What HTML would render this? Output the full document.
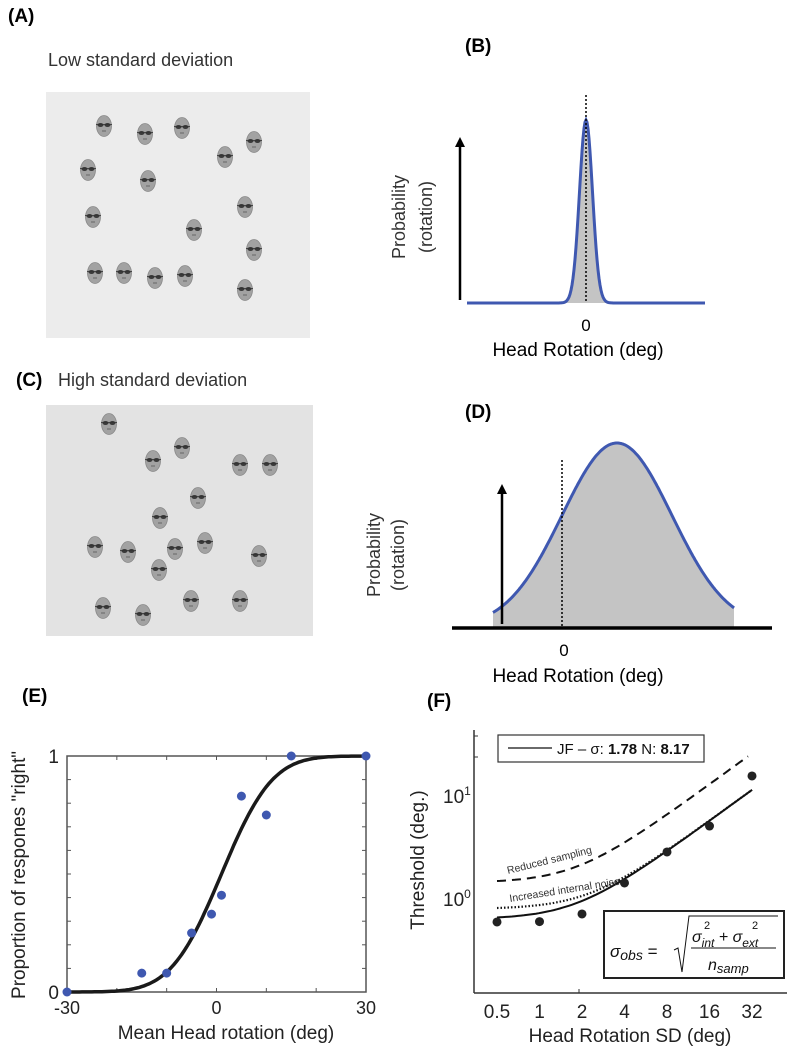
<!DOCTYPE html>
<html><head><meta charset="utf-8">
<style>
body{margin:0;background:#fff;}
svg{display:block;font-family:"Liberation Sans",sans-serif;}
</style></head>
<body>
<svg id="fig" width="787" height="1047" viewBox="0 0 787 1047">
<g id="pA">
<text x="8" y="22" font-size="19" font-weight="bold">(A)</text>
<text x="48" y="66" font-size="18" fill="#333">Low standard deviation</text>
<rect x="46" y="92" width="264" height="246" fill="#ececec"/>
</g>
<g id="pC">
<text x="16" y="386" font-size="19" font-weight="bold">(C)</text>
<text x="58" y="386" font-size="18" fill="#333">High standard deviation</text>
<rect x="46" y="405" width="267" height="231" fill="#e3e3e3"/>
</g>
<g id="pB">
<text x="465" y="52" font-size="19" font-weight="bold">(B)</text>
</g>
<g id="pD">
<text x="465" y="418" font-size="19" font-weight="bold">(D)</text>
</g>
<g id="pE">
<text x="22" y="702" font-size="19" font-weight="bold">(E)</text>
</g>
<g id="pF">
<text x="427" y="707" font-size="19" font-weight="bold">(F)</text>
</g>
</svg>
<script>
const NS='http://www.w3.org/2000/svg';
function mk(parent,tag,attrs,text){const e=document.createElementNS(NS,tag);for(const k in attrs)e.setAttribute(k,attrs[k]);if(text!==undefined)e.textContent=text;parent.appendChild(e);return e;}
const gA=document.getElementById('pA'),gB=document.getElementById('pB'),gC=document.getElementById('pC'),gD=document.getElementById('pD'),gE=document.getElementById('pE'),gF=document.getElementById('pF');

// Face stimulus positions
const facesLowX=[104,145,182,225,254,88,148,93,194,245,254,95,124,155,185,245];
const facesLowY=[126,134,128,157,142,170,181,217,230,207,250,273,273,278,276,290];
const facesHighX=[109,153,182,240,270,198,160,95,128,175,205,259,159,103,143,191,240];
const facesHighY=[424,461,448,465,465,498,518,547,552,549,543,556,570,608,615,601,601];
function face(g,cx,cy){
  const f=mk(g,'g',{});
  
  
  mk(f,'ellipse',{cx:cx,cy:cy,rx:7.5,ry:10.5,fill:'#a2a2a2',stroke:'#888','stroke-width':0.8});
  mk(f,'ellipse',{cx:cx-3.5,cy:cy-1,rx:3,ry:2,fill:'#3a3a3a'});
  mk(f,'ellipse',{cx:cx+3.5,cy:cy-1,rx:3,ry:2,fill:'#3a3a3a'});
  mk(f,'line',{x1:cx-8,y1:cy-1.5,x2:cx+8,y2:cy-1.5,stroke:'#333','stroke-width':0.8});
  mk(f,'line',{x1:cx-2,y1:cy+5,x2:cx+2,y2:cy+5,stroke:'#666','stroke-width':1});
}
facesLowX.forEach((x,i)=>face(gA,x,facesLowY[i]));
facesHighX.forEach((x,i)=>face(gC,x,facesHighY[i]));

function arrow(g,x,y1,y2,name){
  const a=mk(g,'g',{});
  
  
  mk(a,'line',{x1:x,y1:y1,x2:x,y2:y2+8,stroke:'#000','stroke-width':2.5});
  mk(a,'polygon',{points:`${x-5},${y2+10} ${x+5},${y2+10} ${x},${y2}`,fill:'#000'});
}
function gauss(g,x0,x1,base,mu,sig,h,px,name,lineCol){
  let d=`M${x0},${base}`;
  for(let x=x0;x<=x1;x+=1){d+=` L${x},${base-h*Math.exp(-0.5*((x-mu)/sig)**2)}`;}
  const pts=[];for(let x=x0;x<=x1;x+=1)pts.push(`${x},${(base-h*Math.exp(-0.5*((x-mu)/sig)**2)).toFixed(1)}`);
  const fill=mk(g,'path',{d:d+` L${x1},${base} Z`,fill:'#c4c4c4'});
  
  
  const l=mk(g,'polyline',{points:pts.join(' '),fill:'none',stroke:lineCol,'stroke-width':3});
  
  
}
// Panel B
gauss(gB,467,705,303,586,6.5,183,1,'distribution-b','#3f58b0');
mk(gB,'line',{x1:586,y1:95,x2:586,y2:303,stroke:'#000','stroke-width':1.5,'stroke-dasharray':'2,2'});
arrow(gB,460,300,137,'y-arrow-b');
mk(gB,'text',{x:586,y:331,'font-size':17,'text-anchor':'middle'},'0');
mk(gB,'text',{x:578,y:356,'font-size':19,'text-anchor':'middle'},'Head Rotation (deg)');
mk(gB,'text',{transform:'translate(405,217) rotate(-90)','font-size':18,'text-anchor':'middle',fill:'#333'},'Probability');
mk(gB,'text',{transform:'translate(432,217) rotate(-90)','font-size':18,'text-anchor':'middle',fill:'#333'},'(rotation)');
// Panel D
gauss(gD,493,734,627,617,55,184,1,'distribution-d','#3f58b0');
mk(gD,'line',{x1:452,y1:628,x2:772,y2:628,stroke:'#000','stroke-width':3.5});
mk(gD,'line',{x1:562,y1:460,x2:562,y2:628,stroke:'#000','stroke-width':1.5,'stroke-dasharray':'2,2'});
arrow(gD,502,624,484,'y-arrow-d');
mk(gD,'text',{x:564,y:656,'font-size':17,'text-anchor':'middle'},'0');
mk(gD,'text',{x:578,y:682,'font-size':19,'text-anchor':'middle'},'Head Rotation (deg)');
mk(gD,'text',{transform:'translate(380,555) rotate(-90)','font-size':18,'text-anchor':'middle',fill:'#333'},'Probability');
mk(gD,'text',{transform:'translate(404,555) rotate(-90)','font-size':18,'text-anchor':'middle',fill:'#333'},'(rotation)');

// Panel E data
const eX=[-30,-15,-10,-5,-1,1,5,10,15,30];
const eY=[0,0.08,0.08,0.25,0.33,0.41,0.83,0.75,1,1];
const eMu=1, eSigma=8;
const eXTicks=[-30,0,30];
const eYTicks=[0,1];
const ex=v=>67+(v+30)/60*299, ey=v=>992-v*236;
function erf(x){const t=1/(1+0.3275911*Math.abs(x));const y=1-(((((1.061405429*t-1.453152027)*t)+1.421413741)*t-0.284496736)*t+0.254829592)*t*Math.exp(-x*x);return x>=0?y:-y;}
const ax=mk(gE,'rect',{x:67,y:756,width:299,height:236,fill:'none',stroke:'#555','stroke-width':1.5});


for(let v=-20;v<30;v+=10){mk(gE,'line',{x1:ex(v),y1:756,x2:ex(v),y2:760,stroke:'#555'});mk(gE,'line',{x1:ex(v),y1:992,x2:ex(v),y2:988,stroke:'#555'});}
for(let k=1;k<10;k++){mk(gE,'line',{x1:67,y1:ey(k/10),x2:71,y2:ey(k/10),stroke:'#555'});mk(gE,'line',{x1:366,y1:ey(k/10),x2:362,y2:ey(k/10),stroke:'#555'});}
eXTicks.forEach(v=>{const t=mk(gE,'text',{x:ex(v),y:1014,'font-size':18,'text-anchor':'middle',fill:'#222'},String(v));});
eYTicks.forEach(v=>{const t=mk(gE,'text',{x:59,y:ey(v)+7,'font-size':19,'text-anchor':'end',fill:'#222'},String(v));});
let cp=[];for(let v=-30;v<=30;v+=0.5)cp.push(`${ex(v).toFixed(1)},${ey(0.5*(1+erf((v-eMu)/(eSigma*Math.SQRT2)))).toFixed(1)}`);
const fitE=mk(gE,'polyline',{points:cp.join(' '),fill:'none',stroke:'#1a1a1a','stroke-width':3.5});


eX.forEach((v,i)=>{const c=mk(gE,'circle',{cx:ex(v),cy:ey(eY[i]),r:4.5,fill:'#3f58b0'});});
mk(gE,'text',{x:226,y:1039,'font-size':19,'text-anchor':'middle',fill:'#222'},'Mean Head rotation (deg)');
mk(gE,'text',{transform:'translate(25,875) rotate(-90)','font-size':19,'text-anchor':'middle',fill:'#222'},'Proportion of respones "right"');

// Panel F data
const fX=[0.5,1,2,4,8,16,32];
const fY=[0.585,0.59,0.70,1.40,2.8,5.0,15.3];
const fXTicks=['0.5','1','2','4','8','16','32'];
const fitJF=[1.78,8.17], fitNoise=[2.23,8.17], fitSamp=[1.78,1.6];
const fx=v=>497+Math.log2(v/0.5)*42.5, fy=v=>898-Math.log10(v)*103;
mk(gF,'line',{x1:474,y1:730,x2:474,y2:993,stroke:'#333','stroke-width':1.5});
mk(gF,'line',{x1:474,y1:993,x2:787,y2:993,stroke:'#333','stroke-width':1.5});
[736,757].forEach(y=>mk(gF,'line',{x1:474,y1:y,x2:478,y2:y,stroke:'#333'}));
mk(gF,'line',{x1:579,y1:993,x2:579,y2:989,stroke:'#333'});
fXTicks.forEach(s=>{const t=mk(gF,'text',{x:fx(+s),y:1018,'font-size':19,'text-anchor':'middle',fill:'#222'},s);});
[[0,'10','0'],[1,'10','1']].forEach(([p,b,e])=>{const t=mk(gF,'text',{x:443,y:fy(10**p)+8,'font-size':19,fill:'#222'});mk(t,'tspan',{},b);mk(t,'tspan',{dy:-8,'font-size':12},e);});
function model(p,s){return Math.sqrt((p[0]**2+s*s)/p[1]);}
function curve(p,dash,w,name,x1){let pts=[];for(let s=0.5;s<=x1;s*=1.05)pts.push(`${fx(s).toFixed(1)},${fy(model(p,s)).toFixed(1)}`);pts.push(`${fx(x1).toFixed(1)},${fy(model(p,x1)).toFixed(1)}`);const l=mk(gF,'polyline',{points:pts.join(' '),fill:'none',stroke:'#111','stroke-width':w,'stroke-dasharray':dash});}
curve(fitSamp,'9,6',2,'reduced-sampling-line',30);
curve(fitNoise,'1.5,2',2.2,'internal-noise-line',32);
curve(fitJF,'none',2,'jf-fit-line',32);
fX.forEach((v,i)=>{const c=mk(gF,'circle',{cx:fx(v),cy:fy(fY[i]),r:4.5,fill:'#222'});});
mk(gF,'text',{transform:'translate(508,874) rotate(-14)','font-size':10.5,fill:'#333'},'Reduced sampling');
mk(gF,'text',{transform:'translate(510,902) rotate(-9)','font-size':10.5,fill:'#333'},'Increased internal noise');
const lg=mk(gF,'g',{});


mk(lg,'rect',{x:498,y:735,width:206,height:27,fill:'#fff',stroke:'#333','stroke-width':1.2});
mk(lg,'line',{x1:508,y1:748,x2:552,y2:748,stroke:'#111','stroke-width':1.2});
const lt=mk(lg,'text',{x:557,y:754,'font-size':15,fill:'#111'});
mk(lt,'tspan',{},'JF – σ: ');mk(lt,'tspan',{'font-weight':'bold'},'1.78');mk(lt,'tspan',{},' N: ');mk(lt,'tspan',{'font-weight':'bold'},'8.17');
const fb=mk(gF,'g',{});


mk(fb,'rect',{x:604,y:911,width:180,height:67,fill:'#fff',stroke:'#222','stroke-width':2});
const f1=mk(fb,'text',{x:610,y:957,'font-size':17,fill:'#111'});mk(f1,'tspan',{'font-style':'italic'},'σ');mk(f1,'tspan',{dy:3,'font-style':'italic','font-size':14},'obs');mk(f1,'tspan',{dy:-3},' =');
mk(fb,'polyline',{points:'674,950 678,948 682,972 689,916 778,916',fill:'none',stroke:'#111','stroke-width':1});
mk(fb,'line',{x1:691,y1:948,x2:776,y2:948,stroke:'#111','stroke-width':1});
const f2=mk(fb,'text',{x:692,y:942,'font-size':16,'font-style':'italic',fill:'#111'});
mk(f2,'tspan',{},'σ');mk(f2,'tspan',{dy:5,'font-size':12},'int');mk(f2,'tspan',{dy:-5},' + σ');mk(f2,'tspan',{dy:5,'font-size':12},'ext');
mk(fb,'text',{x:704,y:929,'font-size':11,fill:'#111'},'2');mk(fb,'text',{x:752,y:929,'font-size':11,fill:'#111'},'2');
const f3=mk(fb,'text',{x:708,y:970,'font-size':16,'font-style':'italic',fill:'#111'});mk(f3,'tspan',{},'n');mk(f3,'tspan',{dy:3,'font-size':13},'samp');
mk(gF,'text',{x:630,y:1042,'font-size':19,'text-anchor':'middle',fill:'#222'},'Head Rotation SD (deg)');
mk(gF,'text',{transform:'translate(424,860) rotate(-90)','font-size':19,'text-anchor':'middle',fill:'#222'},'Threshold (deg.)');
</script>
</body></html>
